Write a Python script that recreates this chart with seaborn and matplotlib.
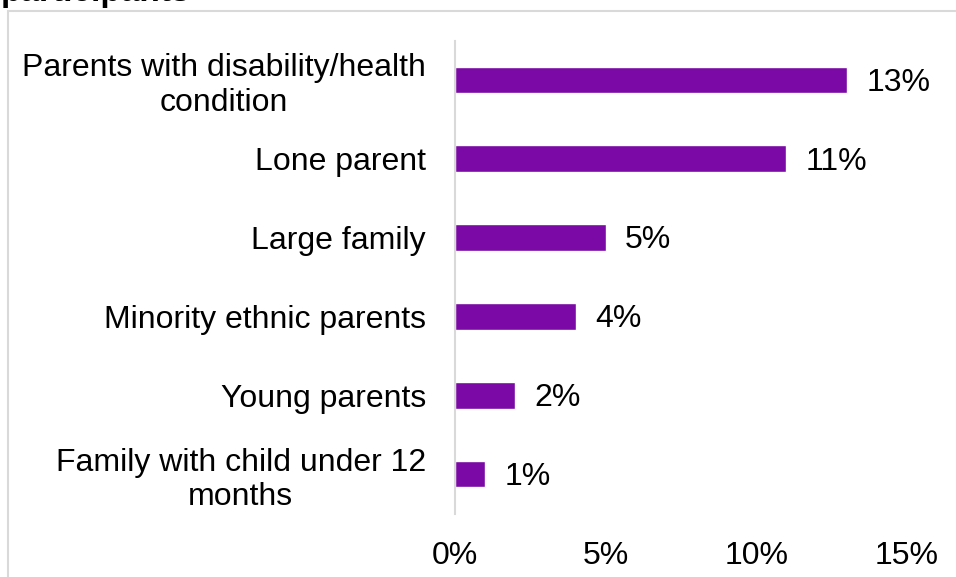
import matplotlib
matplotlib.use("Agg")
import matplotlib.pyplot as plt
import seaborn as sns
import pandas as pd
from matplotlib.patches import Rectangle
from matplotlib.ticker import FuncFormatter

categories = [
    "Parents with disability/health\ncondition",
    "Lone parent",
    "Large family",
    "Minority ethnic parents",
    "Young parents",
    "Family with child under 12\nmonths",
]
values = [13, 11, 5, 4, 2, 1]
x_ticks = [0, 5, 10, 15]

df = pd.DataFrame({"group": categories, "pct": values})

sns.set_theme(style="white")
plt.rcParams["font.family"] = ["Liberation Sans", "DejaVu Sans"]

fig = plt.figure(figsize=(9.56, 5.77), dpi=100)
ax = fig.add_axes([455 / 956, 1 - 513.5 / 577, 452 / 956, 473 / 577])

sns.barplot(data=df, y="group", x="pct", orient="h", color="#7B09A5",
            saturation=1, width=0.34, ax=ax)

for c in ax.containers:
    texts = ax.bar_label(c, labels=[f"{v}%" for v in values], padding=14,
                         fontsize=23, color="#000000")
    for t in texts:
        t.xyann = (t.xyann[0], -2)

ax.set_xlim(0, 15)
ax.set_xticks(x_ticks)
ax.xaxis.set_major_formatter(FuncFormatter(lambda v, p: f"{v:.0f}%"))
ax.set_xlabel("")
ax.set_ylabel("")
ax.tick_params(axis="x", length=0, pad=20, labelsize=23, labelcolor="#000000")
ax.tick_params(axis="y", length=0, pad=21, labelsize=23, labelcolor="#000000")
for lab in ax.get_yticklabels():
    lab.set_multialignment("center")
    lab.set_linespacing(1.18)

for s in ["top", "right", "bottom"]:
    ax.spines[s].set_visible(False)
ax.spines["left"].set_color("#D9D9D9")
ax.spines["left"].set_linewidth(1.5)

# outer chart border (partly cut off by the image edge)
fig.patches.append(Rectangle((7.5 / 956, -0.1), 1.2, 1 - 10.5 / 577 + 0.1,
                             transform=fig.transFigure, fill=False,
                             edgecolor="#D9D9D9", linewidth=1.5))

# title, mostly cut off at the top edge
fig.text(1 / 956, 1 - 0.5 / 577, "participants", fontsize=24, fontweight="bold",
         ha="left", va="baseline", color="#000000")

fig.savefig("out.png", dpi=100)
